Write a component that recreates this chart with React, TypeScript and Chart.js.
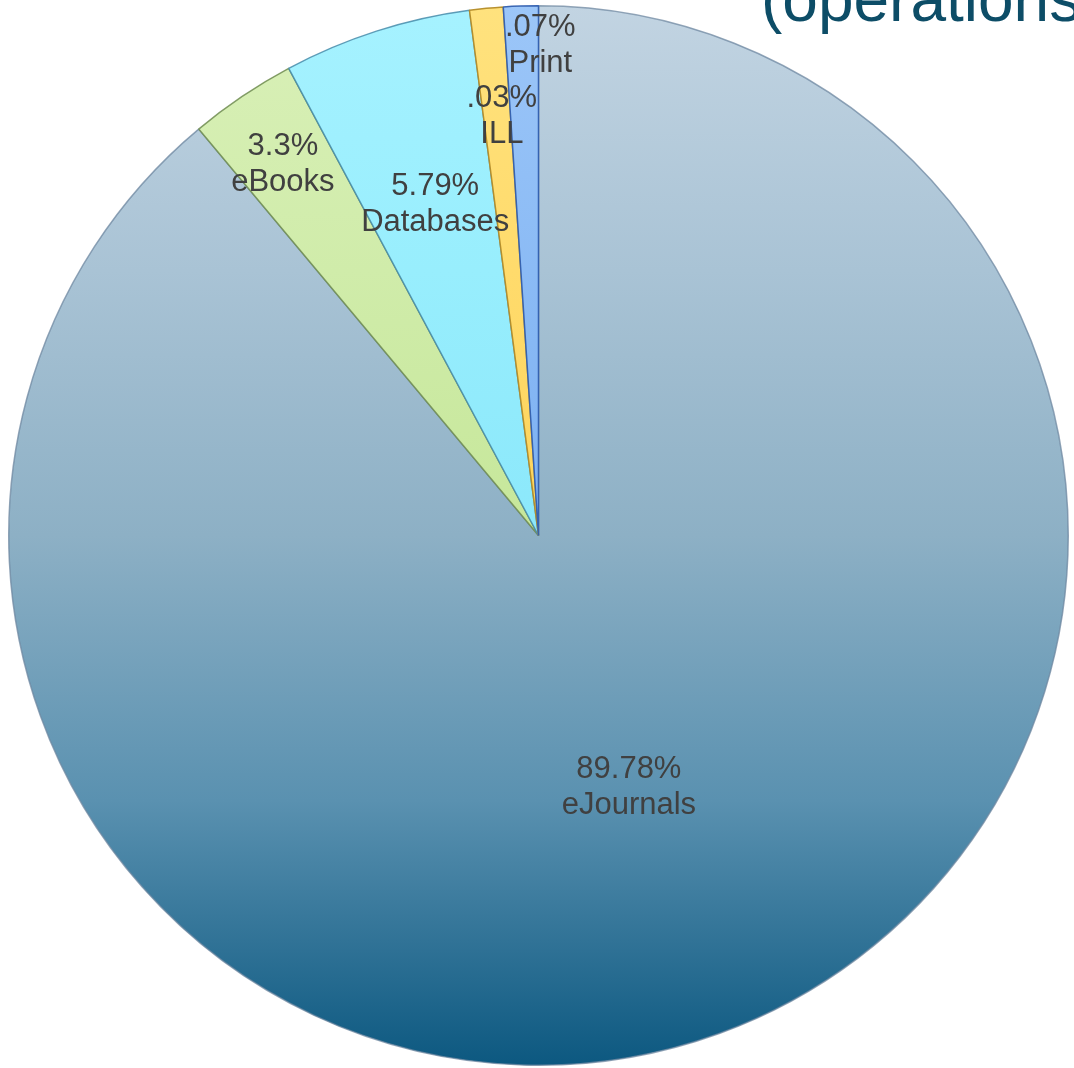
import React, { useEffect, useRef } from "react";
import { Chart, registerables } from "chart.js";

Chart.register(...registerables);

const categories = ["eJournals", "eBooks", "Databases", "ILL", "Print"];
const values = [89.78, 3.3, 5.79, 1.03, 1.07];
const pctLabels = ["89.78%", "3.3%", "5.79%", ".03%", ".07%"];
const titleText = "(operations";

const labelRadius = [0.5, 0.855, 0.66, 0.8, 0.93];
const labelAngleShift = [0, -0.006, 0.011, 0.012, 0.037];

const gradientStops: string[][] = [
  ["#c2d4e2", "#a9c3d5", "#8db0c5", "#5a91b0", "#0c5880"],
  ["#d9f0b8", "#d0ecaa", "#c6e79a", "#b8df86", "#a8d572"],
  ["#a6f2ff", "#98eefd", "#8be8fb", "#7adff6", "#6ad4f0"],
  ["#ffe27e", "#ffdb6c", "#fdd45c", "#f5cb4e", "#eec244"],
  ["#9cc6f8", "#8bbbf5", "#7cb0f2", "#6ea4ee", "#5f97e8"],
];
const borderColors = [
  "rgba(110,135,160,0.75)",
  "rgba(110,140,80,0.85)",
  "rgba(70,140,170,0.85)",
  "rgba(180,140,40,0.95)",
  "rgba(50,95,175,0.95)",
];

const labelPlugin = {
  id: "sliceLabels",
  afterDatasetsDraw(chart: any) {
    const ctx = chart.ctx as CanvasRenderingContext2D;
    const meta = chart.getDatasetMeta(0);
    ctx.save();
    ctx.fillStyle = "#404040";
    ctx.font = "31px 'Liberation Sans', Arial, sans-serif";
    ctx.textAlign = "center";
    ctx.textBaseline = "middle";
    meta.data.forEach((arc: any, i: number) => {
      const p = arc.getProps(["x", "y", "startAngle", "endAngle", "outerRadius"], true);
      const mid = (p.startAngle + p.endAngle) / 2 + labelAngleShift[i];
      const r = p.outerRadius * labelRadius[i];
      const cx = p.x + Math.cos(mid) * r;
      const cy = p.y + Math.sin(mid) * r;
      ctx.fillText(pctLabels[i], cx, cy - 15);
      ctx.fillText(categories[i], cx, cy + 21);
    });
    ctx.restore();

    ctx.save();
    ctx.fillStyle = "#0d4d67";
    ctx.font = "64px 'Liberation Sans', Arial, sans-serif";
    ctx.textAlign = "left";
    ctx.textBaseline = "alphabetic";
    ctx.fillText(titleText, 761, 21);
    ctx.restore();
  },
};

export default function App() {
  const ref = useRef<HTMLCanvasElement | null>(null);
  useEffect(() => {
    if (!ref.current) return;
    const chart = new Chart(ref.current, {
      type: "pie",
      data: {
        labels: categories,
        datasets: [
          {
            data: values,
            backgroundColor: (c: any) => {
              const area = c.chart.chartArea;
              if (!area) return gradientStops[c.dataIndex][2];
              const g = c.chart.ctx.createLinearGradient(0, area.top, 0, area.bottom);
              const s = gradientStops[c.dataIndex];
              s.forEach((col, k) => g.addColorStop(k / (s.length - 1), col));
              return g;
            },
            borderColor: borderColors,
            borderWidth: 1.5,
          },
        ],
      },
      options: {
        animation: false,
        responsive: false,
        maintainAspectRatio: false,
        layout: { padding: { left: 8, right: 5, top: 5, bottom: 2 } },
        plugins: {
          legend: { display: false },
          tooltip: { enabled: false },
          title: { display: false },
        },
      },
      plugins: [labelPlugin],
    });
    return () => chart.destroy();
  }, []);
  return (
    <div style={{ position: "fixed", left: 0, top: 0, width: 1074, height: 1068, background: "#fff" }}>
      <canvas ref={ref} width={1074} height={1068} style={{ width: 1074, height: 1068 }} />
    </div>
  );
}
